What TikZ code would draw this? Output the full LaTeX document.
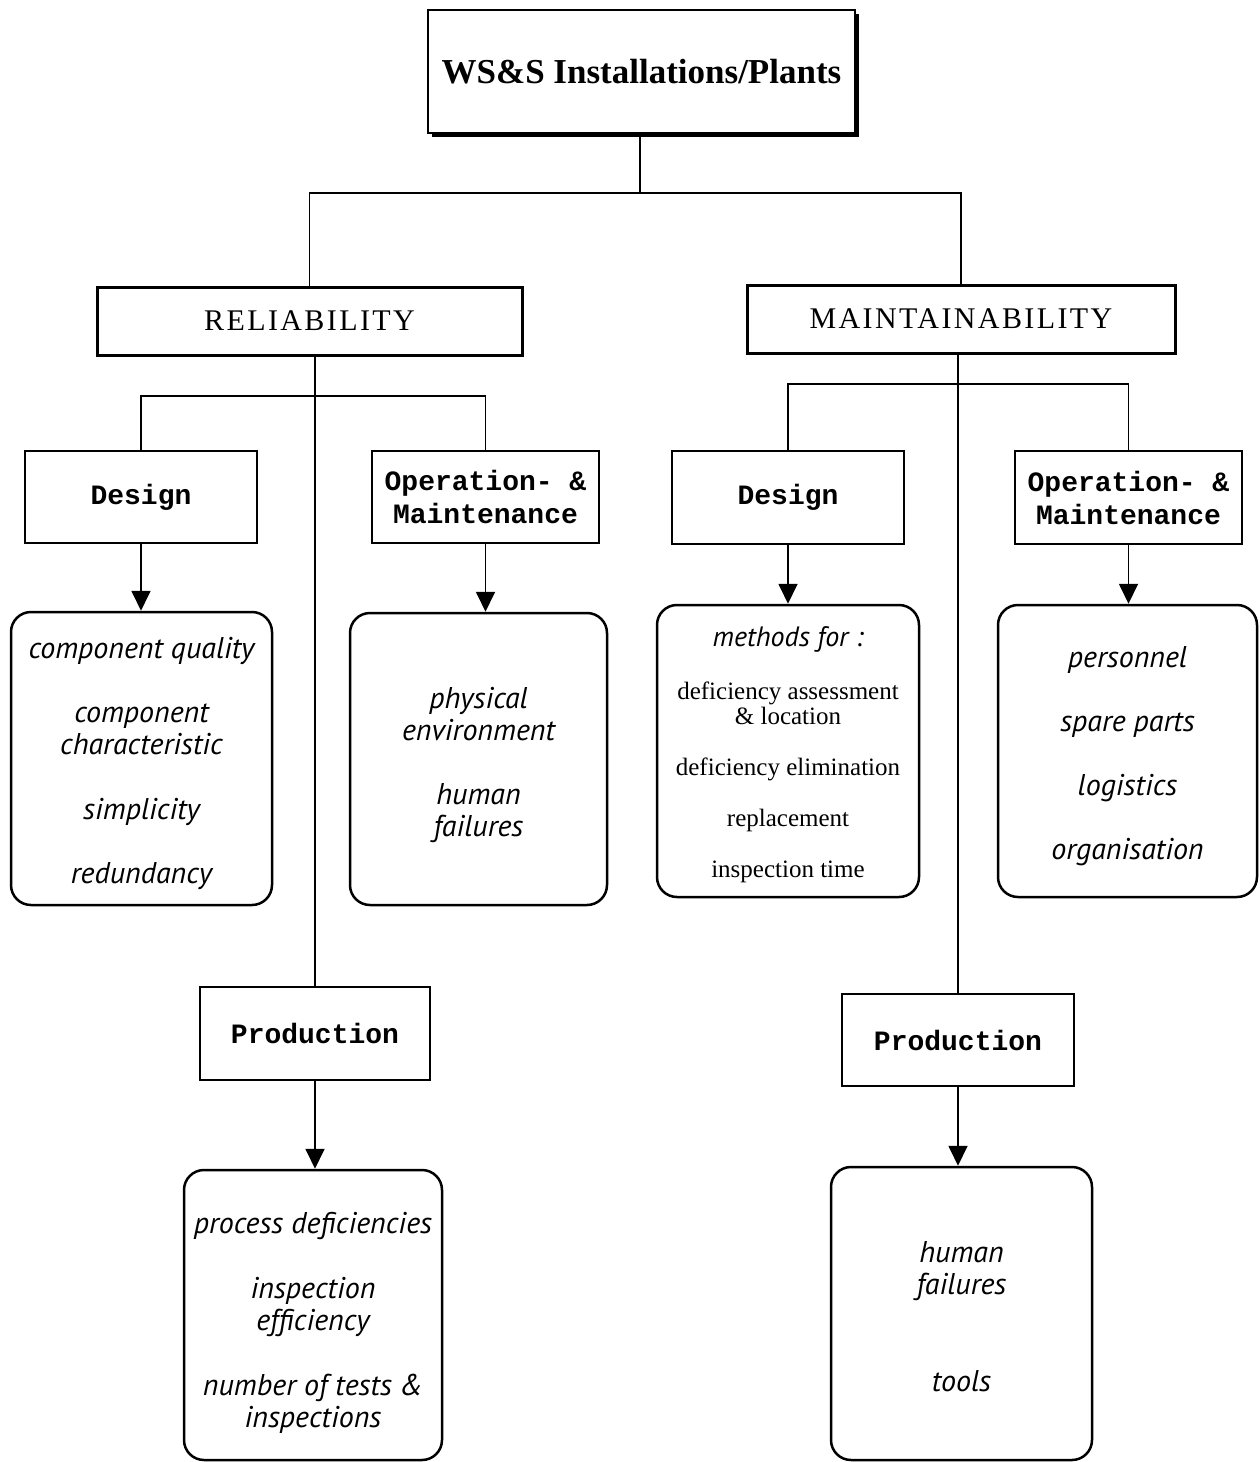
\documentclass[tikz,border=0pt]{standalone}
\usepackage{fontspec}
\setmainfont{Liberation Serif}
\newfontfamily\courfam{Liberation Mono}
\newfontfamily\itfam{PT Sans}
\newfontfamily\capfam[LetterSpace=8]{Liberation Serif}
\newcommand\tg[1]{\rule{0pt}{#1pt}}
\usetikzlibrary{arrows.meta,shadows}
\tikzset{
  topbox/.style={draw, line width=2pt, fill=white, minimum width=#1, inner sep=0pt,
    general shadow={fill=black, shadow xshift=4pt, shadow yshift=-4pt},
    font=\fontsize{35}{40}\selectfont\bfseries},
  mainbox/.style={draw, line width=3pt, fill=white, inner sep=0pt, minimum height=68pt,
    font=\capfam\fontsize{30}{32}\selectfont},
  subbox/.style={draw, line width=2pt, inner sep=0pt, minimum height=92pt,
    align=center, font=\courfam\bfseries\fontsize{28}{33}\selectfont},
  listbox/.style={draw, line width=2.5pt, rounded corners=20pt, inner sep=0pt,
    align=center, font=\itfam\itshape\fontsize{30}{32}\selectfont},
  conn/.style={line width=1.8pt},
  arr/.style={line width=1.8pt, -{Triangle[length=20pt,width=19pt]}}
}
\begin{document}
\begin{tikzpicture}[x=1pt,y=-1pt]
\useasboundingbox (0,0) rectangle (1259,1462);
% top
\node[topbox=427pt, minimum height=123pt] (top) at (641.5,71.5) {WS\&S Installations/Plants};
\node[mainbox, minimum width=425pt] (rel) at (309.5,321) {RELIABILITY};
\node[mainbox, minimum width=428pt] (mnt) at (961,319) {MAINTAINABILITY};
% sub boxes
\node[subbox, minimum width=232pt] (desL) at (141,497) {Design};
\node[subbox, minimum width=227pt] (omL) at (485.5,497) {Operation- \&\\Maintenance};
\node[subbox, minimum width=232pt, minimum height=93pt] (desR) at (788,497.5) {Design};
\node[subbox, minimum width=227pt, minimum height=93pt] (omR) at (1128.5,497.5) {Operation- \&\\Maintenance};
\node[subbox, minimum width=230pt, minimum height=93pt] (prodL) at (315,1033.5) {Production};
\node[subbox, minimum width=232pt] (prodR) at (958,1040) {Production};
% list boxes
\node[listbox, minimum width=261pt, minimum height=293pt] (r1) at (141.5,758.5)
  {\tg{32}component quality\\[32pt]component\\characteristic\\[33pt]simplicity\\[32pt]redundancy};
\node[listbox, minimum width=257pt, minimum height=292pt] (r2) at (478.5,759)
  {\tg{34}physical\\environment\\[32pt]human\\failures};
\node[listbox, minimum width=262pt, minimum height=292pt, font=\fontsize{25}{25}\selectfont] (r3) at (788,751)
  {\tg{28}{\itfam\itshape\fontsize{28}{25}\selectfont methods for :}\\[28pt]deficiency assessment\\\& location\\[26pt]deficiency elimination\\[26pt]replacement\\[26pt]inspection time};
\node[listbox, minimum width=259pt, minimum height=292pt] (r4) at (1127.5,751)
  {\tg{32}personnel\\[32pt]spare parts\\[32pt]logistics\\[32pt]organisation};
\node[listbox, minimum width=258pt, minimum height=290pt] (r5) at (313,1315)
  {\tg{36}process deficiencies\\[33pt]inspection\\efficiency\\[33pt]number of tests \&\\inspections};
\node[listbox, minimum width=261pt, minimum height=293pt] (r6) at (961.5,1313.5)
  {\tg{27}human\\failures\\[65pt]tools};
% connectors
\coordinate (j0) at (640,193);
\draw[conn] (top.south -| j0) -- (j0) -| (rel.north);
\draw[conn] (j0) -| (mnt.north);
\draw[conn] (prodL.north |- rel.south) -- (prodL.north);
\draw[conn] (prodR.north |- mnt.south) -- (prodR.north);
\draw[conn] (desL.north) -- ++(0,-54) -| (omL.north);
\draw[conn] (desR.north) -- ++(0,-66) -| (omR.north);
\draw[arr] (desL.south) -- (desL.south |- r1.north);
\draw[arr] (omL.south) -- (omL.south |- r2.north);
\draw[arr] (desR.south) -- (desR.south |- r3.north);
\draw[arr] (omR.south) -- (omR.south |- r4.north);
\draw[arr] (prodL.south) -- (prodL.south |- r5.north);
\draw[arr] (prodR.south) -- (prodR.south |- r6.north);
\end{tikzpicture}
\end{document}
